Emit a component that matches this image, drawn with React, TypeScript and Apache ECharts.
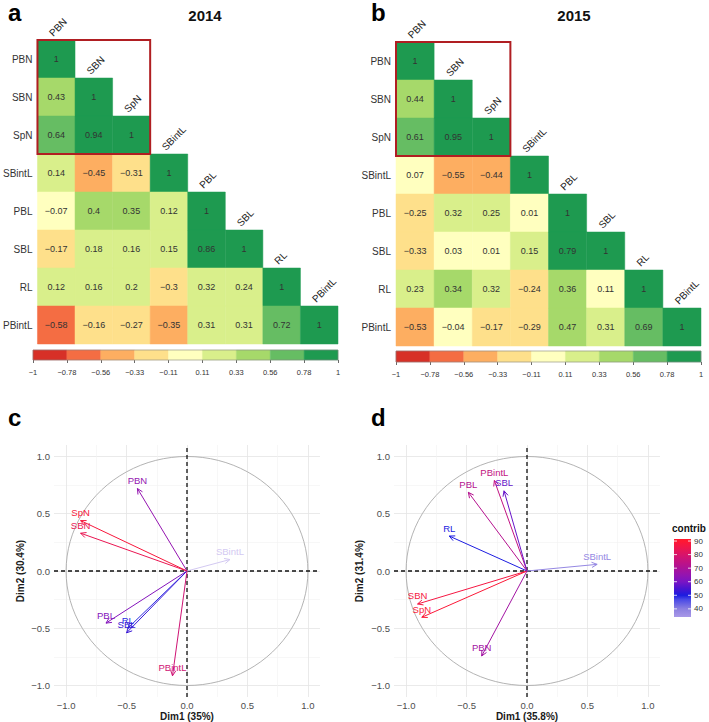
import React, { useEffect, useRef } from "react";
import * as echarts from "echarts";

const FONT = '"Liberation Sans", Arial, Helvetica, sans-serif';

// ---- Correlation matrices (lower triangle, row-wise) ----
const vars = ["PBN", "SBN", "SpN", "SBintL", "PBL", "SBL", "RL", "PBintL"];
const corr2014 = [
  [1],
  [0.43, 1],
  [0.64, 0.94, 1],
  [0.14, -0.45, -0.31, 1],
  [-0.07, 0.4, 0.35, 0.12, 1],
  [-0.17, 0.18, 0.16, 0.15, 0.86, 1],
  [0.12, 0.16, 0.2, -0.3, 0.32, 0.24, 1],
  [-0.58, -0.16, -0.27, -0.35, 0.31, 0.31, 0.72, 1],
];
const corr2015 = [
  [1],
  [0.44, 1],
  [0.61, 0.95, 1],
  [0.07, -0.55, -0.44, 1],
  [-0.25, 0.32, 0.25, 0.01, 1],
  [-0.33, 0.03, 0.01, 0.15, 0.79, 1],
  [0.23, 0.34, 0.32, -0.24, 0.36, 0.11, 1],
  [-0.53, -0.04, -0.17, -0.29, 0.47, 0.31, 0.69, 1],
];
const highlightBox = [0, 0, 2, 2]; // PBN..SpN block
const corrBreaks = [-1, -0.7778, -0.5556, -0.3333, -0.1111, 0.1111, 0.3333, 0.5556, 0.7778, 1];
const corrColors = ["#D73027", "#F46D43", "#FDAE61", "#FEE08B", "#FFFFBF", "#D9EF8B", "#A6D96A", "#66BD63", "#1E9A50"];
const cbTickLabels = ["−1", "−0.78", "−0.56", "−0.33", "−0.11", "0.11", "0.33", "0.56", "0.78", "1"];

// ---- PCA variable coordinates ----
const pcaNames2014 = ["PBN", "SpN", "SBN", "SBintL", "PBL", "RL", "SBL", "PBintL"];
const dim1_2014 = [-0.41, -0.88, -0.88, 0.355, -0.67, -0.49, -0.5, -0.12];
const dim2_2014 = [0.72, 0.44, 0.33, 0.1, -0.455, -0.5, -0.54, -0.915];
const contrib2014 = [65, 88, 84, 24, 62, 49, 53, 78];

const pcaNames2015 = ["PBintL", "SBL", "PBL", "RL", "SBintL", "SBN", "SpN", "PBN"];
const dim1_2015 = [-0.27, -0.19, -0.485, -0.643, 0.58, -0.905, -0.87, -0.375];
const dim2_2015 = [0.79, 0.7, 0.687, 0.305, 0.058, -0.288, -0.404, -0.742];
const contrib2015 = [75, 58, 72, 50, 38, 87, 89, 68];

const pcaRange = [-1.1, 1.1];
const legendRange = [34, 91.5];
const legendTicks = [40, 50, 60, 70, 80, 90];
const contribStops = [20, 34, 40, 47, 50, 55, 60, 65, 70, 75, 80, 85, 90, 92];
const contribStopColors = ["#E4DCF6", "#A898E8", "#8C80E0", "#4848E6", "#1C1CE0", "#4A14D0", "#7A14C4", "#9414B0", "#AC1298", "#C21282", "#D8146A", "#EE164C", "#FF1832", "#FF1A2A"];

function corrColor(v: number) {
  for (let k = 0; k < 9; k++) if (v <= corrBreaks[k + 1]) return corrColors[k];
  return corrColors[8];
}
function fmtNum(v: number) {
  return String(v).replace("-", "−");
}
function hexToRgb(h: string) {
  const n = parseInt(h.slice(1), 16);
  return [(n >> 16) & 255, (n >> 8) & 255, n & 255];
}
function contribColor(v: number) {
  if (v <= contribStops[0]) return contribStopColors[0];
  for (let k = 0; k < contribStops.length - 1; k++) {
    if (v <= contribStops[k + 1]) {
      const t = (v - contribStops[k]) / (contribStops[k + 1] - contribStops[k]);
      const a = hexToRgb(contribStopColors[k]);
      const b = hexToRgb(contribStopColors[k + 1]);
      const c = a.map((x, i) => Math.round(x + (b[i] - x) * t));
      return `rgb(${c[0]},${c[1]},${c[2]})`;
    }
  }
  return contribStopColors[contribStopColors.length - 1];
}

function corrData(m: number[][]) {
  const d: number[][] = [];
  m.forEach((row, i) => row.forEach((v, j) => d.push([j, i, v])));
  return d;
}

function heatSeries(gi: number, m: number[][]) {
  return [
    {
      type: "custom",
      xAxisIndex: gi,
      yAxisIndex: gi,
      z: 2,
      data: corrData(m),
      renderItem: (params: any, api: any) => {
        const c = api.coord([api.value(0), api.value(1)]);
        const s = api.size([1, 1]);
        const v = api.value(2);
        const col = corrColor(v);
        return {
          type: "group",
          children: [
            {
              type: "rect",
              shape: { x: c[0] - s[0] / 2, y: c[1] - s[1] / 2, width: s[0], height: s[1] },
              style: { fill: col, stroke: col, lineWidth: 0.5 },
            },
            {
              type: "text",
              x: c[0],
              y: c[1],
              style: { text: fmtNum(v), fill: "#333", fontSize: 9, fontFamily: FONT, align: "center", verticalAlign: "middle" },
            },
          ],
        };
      },
    },
    {
      type: "custom",
      xAxisIndex: gi,
      yAxisIndex: gi,
      z: 3,
      data: vars.map((_, i) => [i, i]),
      renderItem: (params: any, api: any) => {
        const c = api.coord([api.value(0), api.value(1)]);
        const s = api.size([1, 1]);
        return {
          type: "text",
          x: c[0] - 2,
          y: c[1] - s[1] / 2 - 2,
          rotation: Math.PI / 4,
          style: { text: vars[params.dataIndex], fill: "#222", fontSize: 10, fontFamily: FONT, align: "left", verticalAlign: "bottom" },
        };
      },
    },
    {
      type: "custom",
      xAxisIndex: gi,
      yAxisIndex: gi,
      z: 4,
      data: [highlightBox],
      renderItem: (params: any, api: any) => {
        const c0 = api.coord([api.value(0), api.value(1)]);
        const c1 = api.coord([api.value(2), api.value(3)]);
        const s = api.size([1, 1]);
        return {
          type: "rect",
          shape: { x: c0[0] - s[0] / 2, y: c0[1] - s[1] / 2, width: c1[0] - c0[0] + s[0], height: c1[1] - c0[1] + s[1] },
          style: { fill: "none", stroke: "#B01E22", lineWidth: 2 },
        };
      },
    },
  ];
}

function colorbarSeries(gi: number) {
  return [
    {
      type: "custom",
      xAxisIndex: gi,
      yAxisIndex: gi,
      data: corrColors.map((_, k) => [k, k + 1]),
      renderItem: (params: any, api: any) => {
        const p0 = api.coord([api.value(0), 1]);
        const p1 = api.coord([api.value(1), 0]);
        const col = corrColors[params.dataIndex];
        return {
          type: "rect",
          shape: { x: p0[0], y: p0[1], width: p1[0] - p0[0], height: p1[1] - p0[1] },
          style: { fill: col, stroke: col, lineWidth: 0.4 },
        };
      },
    },
    {
      type: "custom",
      xAxisIndex: gi,
      yAxisIndex: gi,
      z: 3,
      data: [[0, corrColors.length]],
      renderItem: (params: any, api: any) => {
        const p0 = api.coord([api.value(0), 1]);
        const p1 = api.coord([api.value(1), 0]);
        return {
          type: "rect",
          shape: { x: p0[0], y: p0[1], width: p1[0] - p0[0], height: p1[1] - p0[1] },
          style: { fill: "none", stroke: "#888", lineWidth: 0.6 },
        };
      },
    },
  ];
}

function pcaSeries(gi: number, names: string[], d1: number[], d2: number[], contrib: number[]) {
  return [
    {
      type: "custom",
      xAxisIndex: gi,
      yAxisIndex: gi,
      z: 2,
      data: [[0, 0, 1]],
      renderItem: (params: any, api: any) => {
        const c = api.coord([0, 0]);
        const s = api.size([api.value(2), api.value(2)]);
        return {
          type: "circle",
          x: c[0],
          y: c[1],
          scaleY: s[1] / s[0],
          shape: { cx: 0, cy: 0, r: s[0] },
          style: { fill: "none", stroke: "#A8A8A8", lineWidth: 0.9, strokeNoScale: true },
        };
      },
    },
    {
      type: "custom",
      xAxisIndex: gi,
      yAxisIndex: gi,
      z: 3,
      data: [
        [pcaRange[0], 0, pcaRange[1], 0],
        [0, pcaRange[0], 0, pcaRange[1]],
      ],
      renderItem: (params: any, api: any) => {
        const a = api.coord([api.value(0), api.value(1)]);
        const b = api.coord([api.value(2), api.value(3)]);
        return {
          type: "line",
          shape: { x1: a[0], y1: a[1], x2: b[0], y2: b[1] },
          style: { stroke: "#111", lineWidth: 1.3, lineDash: [4, 3] },
        };
      },
    },
    {
      type: "custom",
      xAxisIndex: gi,
      yAxisIndex: gi,
      z: 5,
      data: d1.map((x, i) => [x, d2[i], contrib[i]]),
      renderItem: (params: any, api: any) => {
        const o = api.coord([0, 0]);
        const t = api.coord([api.value(0), api.value(1)]);
        const col = contribColor(api.value(2));
        const ang = Math.atan2(t[1] - o[1], t[0] - o[0]);
        const L = 6;
        const a = Math.PI / 7;
        const h1 = [t[0] - L * Math.cos(ang - a), t[1] - L * Math.sin(ang - a)];
        const h2 = [t[0] - L * Math.cos(ang + a), t[1] - L * Math.sin(ang + a)];
        return {
          type: "group",
          children: [
            { type: "line", shape: { x1: o[0], y1: o[1], x2: t[0], y2: t[1] }, style: { stroke: col, lineWidth: 1 } },
            { type: "polyline", shape: { points: [h1, t, h2] }, style: { stroke: col, fill: "none", lineWidth: 1 } },
            {
              type: "text",
              x: t[0],
              y: t[1] - 8,
              style: { text: names[params.dataIndex], fill: col, fontSize: 9.5, fontFamily: FONT, align: "center", verticalAlign: "middle" },
            },
          ],
        };
      },
    },
  ];
}

const pcaFmt = (v: number) => (Math.abs(v) > 1.05 ? "" : v.toFixed(1).replace("-", "−"));

function pcaX(gi: number, name: string) {
  return {
    type: "value",
    gridIndex: gi,
    min: pcaRange[0],
    max: pcaRange[1],
    name,
    nameLocation: "middle",
    nameGap: 14,
    nameTextStyle: { fontSize: 10, fontWeight: "bold", color: "#1a1a1a", fontFamily: FONT },
    axisLine: { show: false },
    axisTick: { show: false },
    axisLabel: { fontSize: 9.5, color: "#4d4d4d", margin: 3, showMinLabel: false, showMaxLabel: false, formatter: pcaFmt },
    splitLine: { show: true, showMinLine: false, showMaxLine: false, lineStyle: { color: "#E4E4E4", width: 0.8 } },
    minorTick: { show: false, splitNumber: 2 },
    minorSplitLine: { show: true, lineStyle: { color: "#F1F1F1", width: 0.6 } },
  };
}
function pcaY(gi: number, name: string, gap: number) {
  return { ...pcaX(gi, name), nameRotate: 90, nameGap: gap, axisLabel: { ...pcaX(gi, name).axisLabel, margin: 4 } };
}

function legendSeries() {
  return [
    {
      type: "custom",
      xAxisIndex: 6,
      yAxisIndex: 6,
      data: [[legendRange[0], legendRange[1]]],
      renderItem: (params: any, api: any) => {
        const lo = api.value(0);
        const hi = api.value(1);
        const p0 = api.coord([0, hi]);
        const p1 = api.coord([1, lo]);
        const vals = [hi, ...contribStops.filter((v) => v > lo && v < hi).reverse(), lo];
        const stops = vals.map((v) => ({ offset: (hi - v) / (hi - lo), color: contribColor(v) }));
        return {
          type: "rect",
          shape: { x: p0[0], y: p0[1], width: p1[0] - p0[0], height: p1[1] - p0[1] },
          style: { fill: new echarts.graphic.LinearGradient(0, 0, 0, 1, stops) },
        };
      },
    },
    {
      type: "custom",
      xAxisIndex: 6,
      yAxisIndex: 6,
      z: 3,
      data: legendTicks.map((v) => [v]),
      renderItem: (params: any, api: any) => {
        const a = api.coord([0, api.value(0)]);
        const b = api.coord([1, api.value(0)]);
        return {
          type: "group",
          children: [
            { type: "line", shape: { x1: a[0], y1: a[1], x2: a[0] + 3, y2: a[1] }, style: { stroke: "#fff", lineWidth: 0.8 } },
            { type: "line", shape: { x1: b[0] - 3, y1: b[1], x2: b[0], y2: b[1] }, style: { stroke: "#fff", lineWidth: 0.8 } },
          ],
        };
      },
    },
  ];
}

const heatX = (gi: number) => ({ type: "category", gridIndex: gi, data: vars, show: false });
const heatY = (gi: number, margin: number) => ({
  type: "category",
  gridIndex: gi,
  data: vars,
  inverse: true,
  axisLine: { show: false },
  axisTick: { show: false },
  splitLine: { show: false },
  axisLabel: { fontSize: 10, color: "#333", margin, fontFamily: FONT },
});
const cbX = (gi: number) => ({
  type: "value",
  gridIndex: gi,
  min: 0,
  max: 9,
  interval: 1,
  axisLine: { show: false },
  splitLine: { show: false },
  axisTick: { show: true, length: 3, lineStyle: { color: "#444", width: 0.8 } },
  axisLabel: { fontSize: 7.5, color: "#333", margin: 8, fontFamily: FONT, formatter: (v: number) => cbTickLabels[Math.round(v)] },
});
const cbY = (gi: number) => ({ type: "value", gridIndex: gi, min: 0, max: 1, show: false });

const letter = (t: string, x: number, y: number) => ({
  type: "text",
  x,
  y,
  style: { text: t, fontSize: 24, fontWeight: "bold", fontFamily: FONT, fill: "#000", align: "left", verticalAlign: "middle" },
});
const title = (t: string, x: number, y: number) => ({
  type: "text",
  x,
  y,
  style: { text: t, fontSize: 15, fontWeight: "bold", fontFamily: FONT, fill: "#111", align: "center", verticalAlign: "middle" },
});

const option: any = {
  animation: false,
  backgroundColor: "#fff",
  textStyle: { fontFamily: FONT },
  grid: [
    { left: 33, top: 40, width: 305, height: 304 },
    { left: 33, top: 350, width: 305, height: 10 },
    { left: 396, top: 42, width: 305, height: 304 },
    { left: 396, top: 351, width: 305, height: 11 },
    { left: 54, top: 445, width: 266, height: 252 },
    { left: 394, top: 445, width: 266, height: 252 },
    { left: 674, top: 539, width: 17, height: 78 },
  ],
  xAxis: [
    heatX(0),
    cbX(1),
    heatX(2),
    cbX(3),
    pcaX(4, "Dim1 (35%)"),
    pcaX(5, "Dim1 (35.8%)"),
    { type: "value", gridIndex: 6, min: 0, max: 1, show: false },
  ],
  yAxis: [
    heatY(0, 5),
    cbY(1),
    heatY(2, 5),
    cbY(3),
    pcaY(4, "Dim2 (30.4%)", 29),
    pcaY(5, "Dim2 (31.4%)", 30),
    {
      type: "value",
      gridIndex: 6,
      min: legendRange[0],
      max: legendRange[1],
      position: "right",
      axisLine: { show: false },
      axisTick: { show: false },
      splitLine: { show: false },
      axisLabel: { fontSize: 8, color: "#333", margin: 3, showMinLabel: false, showMaxLabel: false },
    },
  ],
  graphic: [
    letter("a", 8, 12),
    letter("b", 371, 12),
    letter("c", 8, 417),
    letter("d", 371, 417),
    title("2014", 205, 15),
    title("2015", 574, 15),
    {
      type: "text",
      x: 672,
      y: 528,
      style: { text: "contrib", fontSize: 10, fontWeight: "bold", fontFamily: FONT, fill: "#111", align: "left", verticalAlign: "middle" },
    },
  ],
  series: [
    ...heatSeries(0, corr2014),
    ...heatSeries(2, corr2015),
    ...colorbarSeries(1),
    ...colorbarSeries(3),
    ...pcaSeries(4, pcaNames2014, dim1_2014, dim2_2014, contrib2014),
    ...pcaSeries(5, pcaNames2015, dim1_2015, dim2_2015, contrib2015),
    ...legendSeries(),
  ],
};

export default function App() {
  const ref = useRef<HTMLDivElement>(null);
  useEffect(() => {
    const chart = echarts.init(ref.current!, null, { renderer: "svg" });
    chart.setOption(option);
    return () => chart.dispose();
  }, []);
  return (
    <div
      ref={ref}
      style={{ position: "fixed", left: 0, top: 0, width: 709, height: 722, background: "#fff" }}
    />
  );
}
